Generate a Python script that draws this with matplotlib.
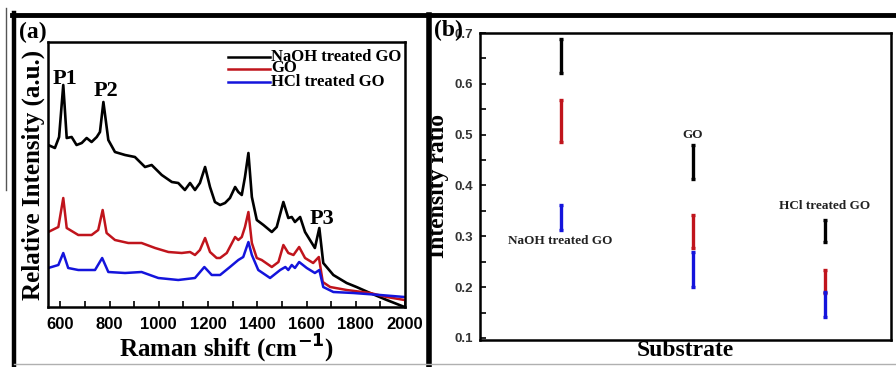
import matplotlib
matplotlib.use("Agg")
import matplotlib.pyplot as plt
from matplotlib.lines import Line2D
from matplotlib.ticker import MultipleLocator

# ---------------- data: panel (a) Raman spectra ----------------
naoh_x = [551, 578, 595, 612, 626, 646, 666, 687, 707, 727, 748, 761, 775, 795, 822, 863, 903,
          944, 971, 1012, 1053, 1079, 1106, 1127, 1147, 1167, 1188, 1208, 1228, 1249, 1269, 1289,
          1310, 1323, 1337, 1350, 1364, 1378, 1398, 1425, 1459, 1479, 1506, 1526, 1540, 1553,
          1574, 1594, 1614, 1634, 1652, 1668, 1709, 1763, 1803, 1858, 1926, 1998]
naoh_y = [162, 159, 170, 222, 169, 170, 162, 164, 169, 165, 170, 175, 205, 167, 155, 152, 150,
          140, 142, 132, 125, 124, 117, 124, 117, 124, 140, 120, 105, 102, 104, 109,
          120, 115, 112, 130, 154, 110, 87, 82, 75, 80, 105, 89, 90, 85,
          90, 75, 67, 59, 79, 44, 32, 24, 20, 14, 7, 0]

go_x = [551, 592, 612, 626, 673, 727, 754, 772, 788, 822, 876, 930, 985, 1039, 1093, 1127, 1147,
        1167, 1188, 1208, 1235, 1249, 1276, 1310, 1323, 1337, 1350, 1364, 1378, 1398, 1418, 1459,
        1486, 1506, 1526, 1547, 1570, 1594, 1627, 1650, 1666, 1696, 1763, 1858, 1926, 1998]
go_y = [75, 80, 109, 79, 72, 72, 77, 97, 74, 67, 64, 64, 59, 55, 54, 55, 52,
        57, 69, 55, 49, 49, 54, 70, 67, 70, 80, 95, 64, 49, 47, 40,
        45, 62, 54, 52, 60, 49, 44, 50, 25, 20, 17, 14, 10, 7]

hcl_x = [551, 592, 612, 632, 673, 741, 770, 795, 863, 930, 998, 1079, 1147, 1185, 1215, 1249,
         1289, 1323, 1343, 1364, 1378, 1404, 1452, 1493, 1514, 1526, 1540, 1553, 1570, 1601,
         1634, 1652, 1668, 1709, 1790, 1899, 1998]
hcl_y = [39, 42, 54, 39, 37, 37, 49, 35, 34, 35, 29, 27, 29, 40, 32, 32,
         40, 47, 50, 65, 52, 37, 29, 37, 40, 37, 42, 39, 45, 39,
         34, 37, 20, 15, 14, 12, 10]

spectra_labels = ["NaOH treated GO", "GO", "HCl treated GO"]
peak_labels = ["P1", "P2", "P3"]
peak_pos = [(617, 228), (786, 216), (1663, 88)]

# ---------------- data: panel (b) intensity ratios ----------------
substrates = ["NaOH treated GO", "GO", "HCl treated GO"]
ratio_black_lo = [0.622, 0.412, 0.288]
ratio_black_hi = [0.688, 0.480, 0.332]
ratio_red_lo = [0.485, 0.277, 0.188]
ratio_red_hi = [0.569, 0.342, 0.233]
ratio_blue_lo = [0.313, 0.200, 0.141]
ratio_blue_hi = [0.362, 0.270, 0.191]
substrate_label_y = [0.291, 0.500, 0.360]

BLACK = "#000000"
RED = "#c0141c"
BLUE = "#1414dc"

W, H = 896, 367
fig = plt.figure(figsize=(W / 100, H / 100), dpi=100)
fig.patch.set_facecolor("white")


def fx(px):
    return px / W


def fy(py):
    return 1 - py / H


serif = "Liberation Serif"
sans = "Liberation Sans"

# ---------------- panel (a) ----------------
axa = fig.add_axes([fx(48), fy(307), fx(405) - fx(48), fy(42) - fy(307)])
axa.plot(naoh_x, naoh_y, color=BLACK, lw=1.9)
axa.plot(go_x, go_y, color=RED, lw=1.8)
axa.plot(hcl_x, hcl_y, color=BLUE, lw=1.8)
axa.set_xlim(550, 2000)
axa.set_ylim(0, 265)
axa.xaxis.set_major_locator(MultipleLocator(200))
axa.xaxis.set_minor_locator(MultipleLocator(100))
axa.set_yticks([])
axa.tick_params(axis="x", which="both", direction="in", length=4, width=1.2, pad=7)
for lab in axa.get_xticklabels():
    lab.set_fontfamily(sans)
    lab.set_fontweight("bold")
    lab.set_fontsize(12)
for s in axa.spines.values():
    s.set_linewidth(1.8)
axa.set_xlabel("Raman shift (cm$^{\\mathbf{-1}}$)", fontfamily=serif, fontweight="bold",
               fontsize=18, labelpad=1)
axa.set_ylabel("Relative Intensity (a.u.)", fontfamily=serif, fontweight="bold",
               fontsize=18, labelpad=2)

# legend drawn compactly
leg_rows = [0.9445, 0.900, 0.850]
for lab, col, yy in zip(spectra_labels, [BLACK, RED, BLUE], leg_rows):
    axa.plot([0.504, 0.622], [yy, yy], color=col, lw=1.8, transform=axa.transAxes)
    axa.text(0.624, yy, lab, transform=axa.transAxes, ha="left", va="center",
             fontfamily=serif, fontweight="bold", fontsize=12)

for lab, (px_, py_) in zip(peak_labels, peak_pos):
    axa.text(px_, py_, lab, ha="center", va="center", fontfamily=serif,
             fontweight="bold", fontsize=16)

# ---------------- panel (b) ----------------
axb = fig.add_axes([fx(480), fy(340), fx(891) - fx(480), fy(33) - fy(340)])
xs = [1, 2, 3]
for lo, hi, col in [(ratio_black_lo, ratio_black_hi, BLACK),
                    (ratio_red_lo, ratio_red_hi, RED),
                    (ratio_blue_lo, ratio_blue_hi, BLUE)]:
    mid = [(a + b) / 2 for a, b in zip(lo, hi)]
    err = [(b - a) / 2 for a, b in zip(lo, hi)]
    axb.errorbar(xs, mid, yerr=err, fmt="none", ecolor=col, elinewidth=2.4,
                 capsize=1.5, capthick=2.4)
for x, lab, yy in zip(xs, substrates, substrate_label_y):
    axb.text(x, yy, lab, ha="center", va="center", fontfamily=serif,
             fontweight="bold", fontsize=9.5, color="#222222")
axb.set_xlim(0.39, 3.5)
axb.set_ylim(0.096, 0.70)
axb.set_xticks([])
axb.yaxis.set_major_locator(MultipleLocator(0.1))
axb.yaxis.set_minor_locator(MultipleLocator(0.05))
axb.tick_params(axis="y", which="both", direction="in", length=4, width=1.2, pad=5,
                labelsize=9.5, labelcolor="#333333")
for lab in axb.get_yticklabels():
    lab.set_fontfamily(sans)
    lab.set_fontweight("bold")
for s in axb.spines.values():
    s.set_linewidth(1.8)
axb.set_xlabel("Substrate", fontfamily=serif, fontweight="bold", fontsize=17, labelpad=0)
axb.set_ylabel("Intensity ratio", fontfamily=serif, fontweight="bold", fontsize=17, labelpad=4)

# panel letters
fig.text(fx(33), fy(32), "(a)", ha="center", va="center", fontfamily=serif,
         fontweight="bold", fontsize=17)
fig.text(fx(448), fy(30), "(b)", ha="center", va="center", fontfamily=serif,
         fontweight="bold", fontsize=17)

# outer frame pieces
fig.add_artist(Line2D([fx(12), fx(896)], [fy(15), fy(15)], color="black", lw=3.5,
                      transform=fig.transFigure))
fig.add_artist(Line2D([fx(14), fx(14)], [fy(13), fy(367)], color="black", lw=3.2,
                      transform=fig.transFigure))
fig.add_artist(Line2D([fx(428.5), fx(428.5)], [fy(15), fy(367)], color="black", lw=4,
                      transform=fig.transFigure))
fig.add_artist(Line2D([fx(5.5), fx(5.5)], [fy(8), fy(190)], color="#555555", lw=1,
                      transform=fig.transFigure))
fig.add_artist(Line2D([fx(14), fx(896)], [fy(364), fy(364)], color="#b0b0b0", lw=1,
                      transform=fig.transFigure))

fig.savefig("out.png", dpi=100, facecolor="white")
